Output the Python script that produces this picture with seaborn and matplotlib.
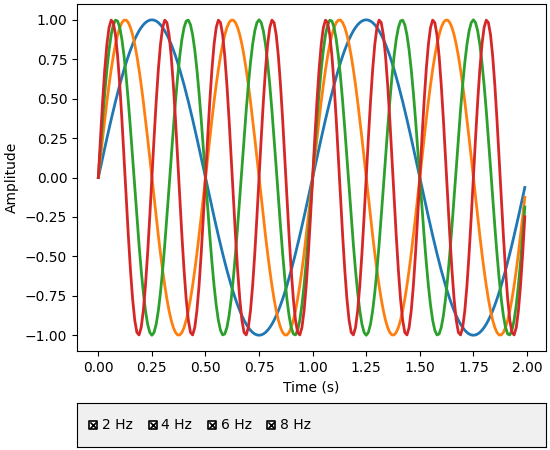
import numpy as np
import pandas as pd
import matplotlib
matplotlib.use("Agg")
import matplotlib.pyplot as plt
import seaborn as sns

# Data
frequencies = [1, 2, 3, 4]
labels = ["2 Hz", "4 Hz", "6 Hz", "8 Hz"]
t = np.arange(0, 2, 0.01)

rows = []
for f, lab in zip(frequencies, labels):
    y = np.sin(2 * np.pi * f * t)
    rows.append(pd.DataFrame({"Time (s)": t, "Amplitude": y, "signal": lab}))
df = pd.concat(rows, ignore_index=True)

colors = ["#1f77b4", "#ff7f0e", "#2ca02c", "#d62728"]

fig = plt.figure(figsize=(5.5, 4.5), dpi=100)
ax = fig.add_axes([0.14, 0.22, 0.853, 0.771])
sns.lineplot(data=df, x="Time (s)", y="Amplitude", hue="signal",
             palette=colors, linewidth=2, ax=ax, legend=False, estimator=None)
ax.set_xlabel("Time (s)")
ax.set_ylabel("Amplitude")
ax.set_yticks(np.arange(-1, 1.01, 0.25))
ax.set_xticks(np.arange(0, 2.01, 0.25))

# Check-button style legend panel
lax = fig.add_axes([0.14, 0.0067, 0.853, 0.0978])
lax.set_facecolor("#f0f0f0")
lax.set_xlim(0, 1)
lax.set_ylim(0, 1)
lax.set_xticks([])
lax.set_yticks([])
xs = [0.034, 0.161, 0.287, 0.413]
for x, lab in zip(xs, labels):
    lax.scatter([x], [0.5], marker="s", s=36, facecolor="white",
                edgecolor="black", linewidth=1.2, zorder=2)
    lax.scatter([x], [0.5], marker="x", s=20, color="black",
                linewidth=1.2, zorder=3)
    lax.text(x + 0.019, 0.5, lab, va="center", ha="left", fontsize=10)

fig.savefig("out.png", dpi=100)
